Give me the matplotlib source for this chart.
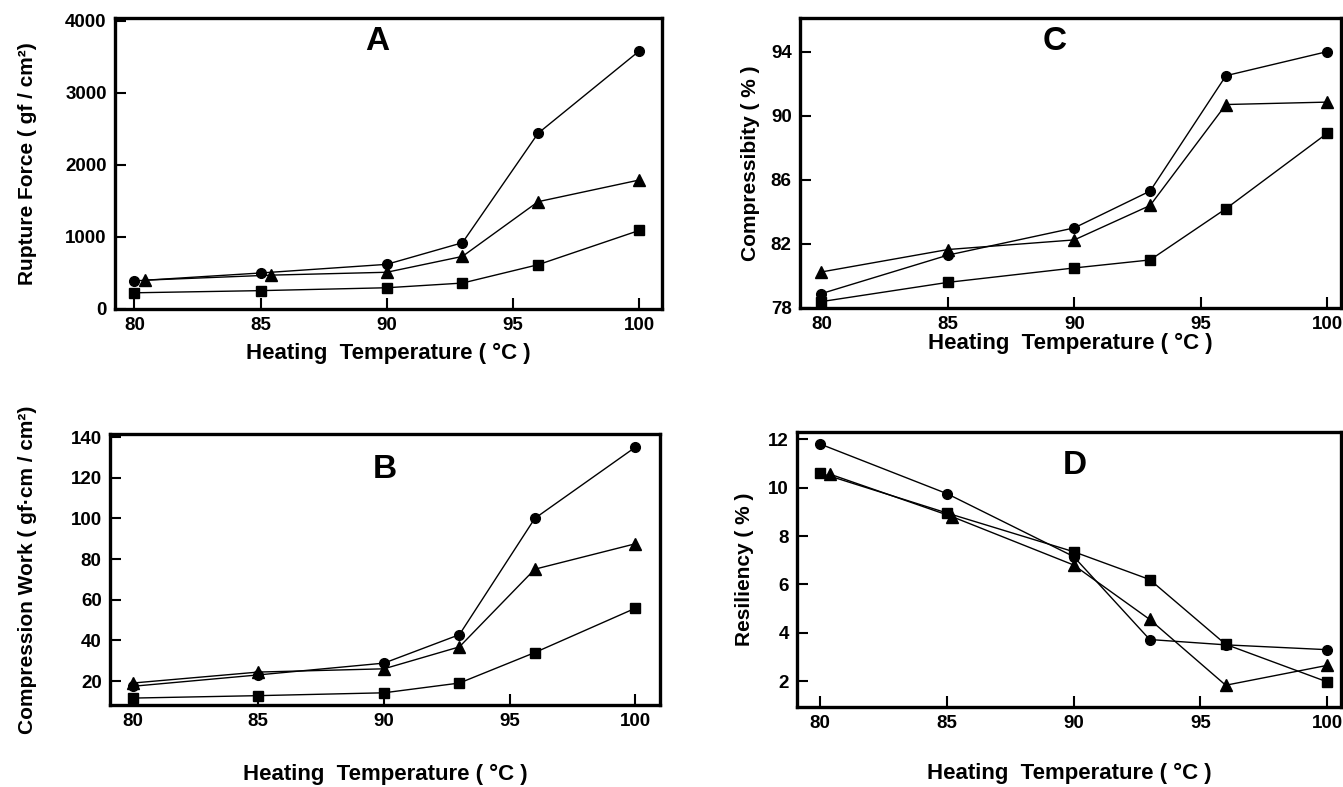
import matplotlib
matplotlib.use("Agg")
import matplotlib.pyplot as plt

plt.rcParams['font.family'] = ['Liberation Sans', 'DejaVu Sans']
plt.rcParams['font.weight'] = 'bold'

# heating temperatures (deg C)
temps = [80, 85, 90, 93, 96, 100]
temps_tri_a = [80.4, 85.4, 90, 93, 96, 100]
temps_tri_d = [80.4, 85.2, 90, 93, 96, 100]

# A: rupture force (gf/cm2)
a_circle = [390, 500, 620, 920, 2440, 3580]
a_tri = [400, 470, 510, 730, 1490, 1790]
a_square = [225, 255, 295, 360, 615, 1090]

# B: compression work (gf.cm/cm2)
b_circle = [17.4, 23, 28.8, 42.8, 100, 135]
b_tri = [19, 24.4, 26, 36.8, 75, 87.5]
b_square = [11.6, 12.8, 14.2, 19, 34, 55.8]

# C: compressibility (%)
c_circle = [78.9, 81.3, 83.0, 85.3, 92.5, 94.0]
c_tri = [80.25, 81.65, 82.25, 84.4, 90.7, 90.85]
c_square = [78.4, 79.6, 80.5, 81.0, 84.2, 88.9]

# D: resiliency (%)
d_circle = [11.8, 9.75, 7.15, 3.72, 3.5, 3.3]
d_tri = [10.55, 8.8, 6.8, 4.55, 1.83, 2.65]
d_square = [10.6, 8.95, 7.35, 6.2, 3.52, 1.97]

x_ticks = [80, 85, 90, 95, 100]

W, H = 1343, 787
fig = plt.figure(figsize=(W / 100, H / 100), dpi=100)
fig.patch.set_facecolor('white')


def make_ax(left, top, right, bottom):
    return fig.add_axes([left / W, 1 - bottom / H, (right - left) / W, (bottom - top) / H])


def style(ax, xlim, ylim, yticks, letter, lx, ly, ylabel, xlabelpad, ylabelpad):
    ax.set_xlim(*xlim)
    ax.set_ylim(*ylim)
    ax.set_xticks(x_ticks)
    ax.set_yticks(yticks)
    for s in ax.spines.values():
        s.set_linewidth(2.4)
    ax.tick_params(direction='in', length=8, width=1.5, labelsize=13.5, pad=6)
    for lab in ax.get_xticklabels() + ax.get_yticklabels():
        lab.set_fontweight('bold')
    ax.text(lx, ly, letter, transform=ax.transAxes, fontsize=24, fontweight='bold',
            ha='center', va='center')
    ax.set_xlabel('Heating  Temperature ( \u00b0C )', fontsize=16, fontweight='bold',
                  labelpad=xlabelpad)
    ax.set_ylabel(ylabel, fontsize=15, fontweight='bold', labelpad=ylabelpad)


def draw(ax, xc, yc, xt, yt, xs, ys):
    kw = dict(color='black', linewidth=1.0)
    ax.plot(xc, yc, marker='o', markersize=7, **kw)
    ax.plot(xt, yt, marker='^', markersize=8, **kw)
    ax.plot(xs, ys, marker='s', markersize=7, **kw)


# panel A
axA = make_ax(115, 18, 662, 309)
draw(axA, temps, a_circle, temps_tri_a, a_tri, temps, a_square)
style(axA, (79.23, 100.91), (0, 4040), [0, 1000, 2000, 3000, 4000], 'A', 0.48, 0.92,
      'Rupture Force ( gf / cm\u00b2)', 6, 20)

# panel C
axC = make_ax(800, 18, 1341, 308)
draw(axC, temps, c_circle, temps, c_tri, temps, c_square)
style(axC, (79.15, 100.55), (78, 96.1), [78, 82, 86, 90, 94], 'C', 0.47, 0.92,
      'Compressibity ( % )', 0, 8)

# panel B
axB = make_ax(110, 434, 660, 705)
draw(axB, temps, b_circle, temps, b_tri, temps, b_square)
style(axB, (79.1, 100.98), (8.2, 141.5), [20, 40, 60, 80, 100, 120, 140], 'B', 0.5, 0.87,
      'Compression Work ( gf\u00b7cm / cm\u00b2)', 24, 24)

# panel D
axD = make_ax(797, 432, 1341, 707)
draw(axD, temps, d_circle, temps_tri_d, d_tri, temps, d_square)
style(axD, (79.08, 100.55), (0.93, 12.3), [2, 4, 6, 8, 10, 12], 'D', 0.51, 0.88,
      'Resiliency ( % )', 22, 10)

plt.savefig('out.png', dpi=100)
